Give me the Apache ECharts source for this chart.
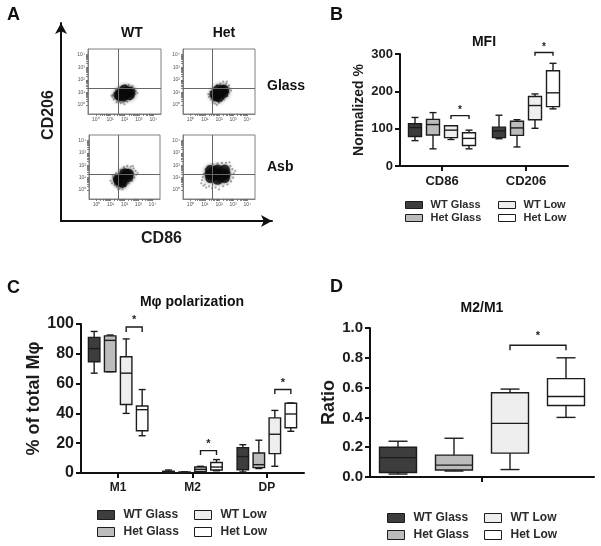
<!DOCTYPE html>
<html lang="en">
<head>
<meta charset="UTF-8">
<title>Macrophage polarization</title>
<style>
  html, body { margin: 0; padding: 0; background: #fff; }
  #chart { width: 601px; height: 546px; filter: blur(0.4px); }
</style>
</head>
<body>
<div id="chart"></div>
<script src="https://cdn.jsdelivr.net/npm/echarts@6/dist/echarts.min.js"></script>
<script>
// group names, one per box colour
var groups = ['WT Glass', 'Het Glass', 'WT Low', 'Het Low'];

// every box row is [min, q1, median, q3, max]
// panel B, MFI
var mfiCategories = ['CD86', 'CD206'];
var mfiTicks = [0, 100, 200, 300];
var mfiWtGlass = [[68, 79, 103, 113, 130], [73, 76, 94, 104, 136]];
var mfiHetGlass = [[46, 83, 111, 125, 143], [51, 82, 102, 120, 124]];
var mfiWtLow = [[71, 76, 96, 108, 108], [101, 124, 162, 186, 193]];
var mfiHetLow = [[46, 55, 74, 89, 96], [153, 159, 196, 255, 275]];
// [category, first group, last group, bracket top, bracket foot]
var mfiBrackets = [[0, 2, 3, 135, 126], [1, 2, 3, 304, 295]];

// panel C, polarization
var polCategories = ['M1', 'M2', 'DP'];
var polTicks = [0, 20, 40, 60, 80, 100];
var polWtGlass = [[67, 74.7, 83.5, 91, 95], [0.2, 0.3, 0.7, 1.2, 2], [0.7, 2.2, 11, 17, 19]];
var polHetGlass = [[68, 68, 89, 92, 92.6], [0.1, 0.2, 0.4, 0.6, 0.8], [3, 3.6, 5.6, 13.4, 22]];
var polWtLow = [[40, 46, 67, 78, 90], [0.8, 1, 2.5, 4, 4.5], [4.5, 13, 26, 37, 42]];
var polHetLow = [[25, 28.4, 42.5, 45, 56], [1.5, 2, 4, 7, 9], [28, 30.4, 39.6, 46.8, 47]];
var polBrackets = [[0, 2, 3, 98, 94.6], [1, 2, 3, 15, 12], [2, 2, 3, 56, 53]];

// panel D, M2/M1 ratio
var ratioCategories = [''];
var ratioTicks = [0, 0.2, 0.4, 0.6, 0.8, 1];
var ratioWtGlass = [[0.02, 0.03, 0.13, 0.2, 0.24]];
var ratioHetGlass = [[0.04, 0.047, 0.08, 0.147, 0.26]];
var ratioWtLow = [[0.05, 0.16, 0.36, 0.565, 0.59]];
var ratioHetLow = [[0.4, 0.48, 0.54, 0.66, 0.8]];
var ratioBrackets = [[0, 2, 3, 0.884, 0.85]];

// panel A, flow plots, read in decades: dense centre of each cloud and its stray events
var wtGlassCore = [[1.98, 0.94], [1.6, 0.8], [1.75, 0.95], [2.2, 1.05], [2.4, 1.05], [2.35, 0.8], [1.95, 0.7], [2.0, 1.2], [1.7, 0.7]];
var wtGlassStray = [[1.2, 0.8], [1.15, 0.65], [1.3, 0.95], [1.1, 0.75], [1.35, 0.55], [1.5, 0.4], [1.6, 0.25], [1.75, 0.15], [1.9, 0.2], [2.05, 0.3], [2.2, 0.25], [2.0, 0.05], [2.4, 0.45], [2.6, 0.6], [2.75, 0.85], [2.8, 1.1], [2.7, 1.3], [2.55, 1.5], [2.3, 1.6], [2.1, 1.55], [1.85, 1.5], [1.6, 1.4], [1.4, 1.2], [2.9, 0.95], [1.25, 0.45], [1.45, 0.2]];
var hetGlassCore = [[2.0, 0.95], [1.8, 0.7], [1.7, 0.85], [2.2, 1.15], [2.35, 1.2], [2.3, 0.95], [2.0, 0.65], [1.95, 1.2]];
var hetGlassStray = [[1.25, 0.85], [1.3, 0.65], [1.4, 1.05], [1.45, 0.45], [1.6, 0.3], [1.7, 0.1], [1.85, 0.0], [2.0, 0.15], [2.15, 0.3], [2.35, 0.45], [2.6, 0.7], [2.7, 1.0], [2.75, 1.3], [2.7, 1.55], [2.5, 1.7], [2.3, 1.85], [2.1, 1.7], [1.85, 1.55], [1.6, 1.35], [2.55, 1.85], [1.95, 0.25], [1.55, 0.15], [2.85, 1.15]];
var wtAsbCore = [[1.9, 1.0], [1.6, 0.75], [1.55, 0.9], [1.75, 0.7], [2.15, 1.25], [2.3, 1.3], [2.0, 1.35], [2.25, 1.05], [1.85, 0.6]];
var wtAsbStray = [[1.0, 0.75], [1.1, 0.55], [1.2, 0.95], [1.15, 1.15], [1.3, 0.4], [1.45, 0.25], [1.65, 0.1], [1.85, 0.05], [2.05, 0.3], [2.3, 0.55], [2.55, 0.75], [2.7, 1.0], [2.85, 1.25], [2.8, 1.55], [2.65, 1.75], [2.45, 1.9], [2.2, 1.95], [1.95, 1.85], [1.7, 1.65], [1.4, 1.35], [2.95, 1.4], [1.55, 0.05], [2.6, 1.95]];
var hetAsbCore = [[1.9, 1.25], [1.4, 1.0], [1.35, 1.3], [1.4, 1.6], [1.9, 0.85], [1.9, 1.65], [2.4, 1.0], [2.45, 1.3], [2.4, 1.65], [1.65, 1.5], [2.15, 1.1]];
var hetAsbStray = [[0.75, 0.55], [0.8, 0.8], [0.85, 1.05], [0.9, 0.35], [1.0, 0.45], [0.95, 1.3], [1.05, 1.7], [1.1, 0.2], [1.3, 0.3], [1.5, 0.15], [1.75, 0.2], [2.0, 0.05], [2.3, 0.3], [2.6, 0.45], [2.85, 0.7], [3.0, 1.0], [3.05, 1.35], [2.95, 1.7], [2.8, 1.95], [2.5, 2.2], [2.2, 2.2], [1.9, 2.15], [1.55, 2.1], [1.25, 1.95], [3.15, 1.55], [2.75, 2.25]];

// flow axis ticks
var fcsDecades = [0, 1, 2, 3, 4];
var fcsDecadeLabels = ['10⁰', '10¹', '10²', '10³', '10⁴'];
var fcsTicks = [0, 0.3, 0.48, 0.6, 0.7, 0.78, 0.85, 0.9, 0.95, 1, 1.3, 1.48, 1.6, 1.7, 1.78, 1.85, 1.9, 1.95, 2, 2.3, 2.48, 2.6, 2.7, 2.78, 2.85, 2.9, 2.95, 3, 3.3, 3.48, 3.6, 3.7, 3.78, 3.85, 3.9, 3.95, 4];
var quadrantX = 1.55;
var quadrantY = 1.3;

var fontName = '"Liberation Sans", Arial, sans-serif';
var ink = '#1c1c1c';
var groupColors = ['#3d3d3d', '#bcbcbc', '#eeeeee', '#ffffff'];

var chart = echarts.init(document.getElementById('chart'));

var grids = [];
var xAxes = [];
var yAxes = [];
var series = [];
var legends = [];

// flow plots
function addFlowPlot(rect, core, stray) {
  var idx = grids.length;
  grids.push({ left: rect[0], top: rect[1], width: rect[2], height: rect[3], show: true, borderColor: '#808080', borderWidth: 1, backgroundColor: 'transparent' });
  var flowAxis = function (gridIndex, min, max) {
    return {
      type: 'value', gridIndex: gridIndex, min: min, max: max,
      axisLine: { show: true, onZero: false, lineStyle: { color: '#808080', width: 1 } },
      splitLine: { show: false },
      axisTick: { show: true, length: 2, customValues: fcsTicks, lineStyle: { color: '#666', width: 0.8 } },
      axisLabel: {
        show: true, customValues: fcsDecades, margin: 3, fontSize: 5, color: '#555', fontFamily: fontName,
        formatter: function (v) { return fcsDecadeLabels[Math.round(v)]; }
      }
    };
  };
  xAxes.push(flowAxis(idx, -0.54, 4.54));
  yAxes.push(flowAxis(idx, -0.72, 4.45));
  series.push({
    type: 'scatter', name: 'stray', xAxisIndex: idx, yAxisIndex: idx, data: stray, z: 2, silent: true,
    symbolSize: 2.2, itemStyle: { color: '#222', opacity: 0.4 },
    markLine: {
      silent: true, symbol: 'none', animation: false, label: { show: false },
      lineStyle: { color: '#666', width: 1, type: 'solid' },
      data: [{ xAxis: quadrantX }, { yAxis: quadrantY }]
    }
  });
  series.push({
    type: 'scatter', name: 'core', xAxisIndex: idx, yAxisIndex: idx, data: core, z: 3, silent: true,
    symbolSize: 10.5, itemStyle: { color: '#0b0b0b', shadowBlur: 4, shadowColor: 'rgba(0,0,0,0.6)' }
  });
}

addFlowPlot([88, 49, 73, 65], wtGlassCore, wtGlassStray);
addFlowPlot([183, 49, 72, 65], hetGlassCore, hetGlassStray);
addFlowPlot([89, 135, 71, 64], wtAsbCore, wtAsbStray);
addFlowPlot([183, 135, 72, 64], hetAsbCore, hetAsbStray);

// the big arrows round panel A
(function () {
  var idx = grids.length;
  grids.push({ left: 61, top: 23, width: 211, height: 198 });
  var arrowLine = { show: true, onZero: false, symbol: ['none', 'arrow'], symbolSize: [9, 11], lineStyle: { color: '#111', width: 2 } };
  xAxes.push({
    type: 'value', gridIndex: idx, min: 0, max: 1, axisLine: arrowLine, axisTick: { show: false }, axisLabel: { show: false }, splitLine: { show: false },
    name: 'CD86', nameLocation: 'middle', nameGap: 10,
    nameTextStyle: { fontFamily: fontName, fontWeight: 'bold', fontSize: 16, color: ink, padding: [0, 10, 0, 0] }
  });
  yAxes.push({
    type: 'value', gridIndex: idx, min: 0, max: 1, axisLine: arrowLine, axisTick: { show: false }, axisLabel: { show: false }, splitLine: { show: false },
    name: 'CD206', nameLocation: 'middle', nameGap: 4,
    nameTextStyle: { fontFamily: fontName, fontWeight: 'bold', fontSize: 16, color: ink, padding: [0, 0, 0, 14] }
  });
})();

// one box with whiskers; offset and widths in pixels
function boxRenderer(offset, boxWidth, capWidth, lineWidth, fill) {
  return function (params, api) {
    var cx = api.coord([api.value(0), 0])[0] + offset;
    var low = api.coord([0, api.value(1)])[1];
    var q1 = api.coord([0, api.value(2)])[1];
    var med = api.coord([0, api.value(3)])[1];
    var q3 = api.coord([0, api.value(4)])[1];
    var high = api.coord([0, api.value(5)])[1];
    var stroke = { stroke: ink, lineWidth: lineWidth, fill: null };
    var seg = function (x1, y1, x2, y2) {
      return { type: 'line', shape: { x1: x1, y1: y1, x2: x2, y2: y2 }, style: stroke };
    };
    return {
      type: 'group',
      children: [
        seg(cx, low, cx, high),
        seg(cx - capWidth / 2, low, cx + capWidth / 2, low),
        seg(cx - capWidth / 2, high, cx + capWidth / 2, high),
        { type: 'rect', shape: { x: cx - boxWidth / 2, y: q3, width: boxWidth, height: q1 - q3 }, style: { fill: fill, stroke: ink, lineWidth: lineWidth } },
        seg(cx - boxWidth / 2, med, cx + boxWidth / 2, med)
      ]
    };
  };
}

function bracketRenderer(spacing, lineWidth, starGap, starSize) {
  return function (params, api) {
    var cx = api.coord([api.value(0), 0])[0];
    var x1 = cx + (api.value(1) - 1.5) * spacing;
    var x2 = cx + (api.value(2) - 1.5) * spacing;
    var top = api.coord([0, api.value(3)])[1];
    var foot = api.coord([0, api.value(4)])[1];
    return {
      type: 'group',
      children: [
        { type: 'polyline', shape: { points: [[x1, foot], [x1, top], [x2, top], [x2, foot]] }, style: { stroke: ink, lineWidth: lineWidth, fill: null } },
        { type: 'text', x: (x1 + x2) / 2, y: top - starGap, style: { text: '*', fill: ink, font: 'bold ' + starSize + 'px ' + fontName, textAlign: 'center', textVerticalAlign: 'middle' } }
      ]
    };
  };
}

// boxes panels
function addBoxPanel(opt) {
  var idx = grids.length;
  grids.push({ left: opt.rect[0], top: opt.rect[1], width: opt.rect[2], height: opt.rect[3] });
  var axisStroke = { color: '#111', width: 2 };
  xAxes.push({
    type: 'category', gridIndex: idx, data: opt.categories,
    axisLine: { show: true, lineStyle: axisStroke },
    axisTick: { show: true, alignWithLabel: true, length: 5, lineStyle: axisStroke },
    axisLabel: { show: true, margin: 9, color: ink, fontFamily: fontName, fontWeight: 'bold', fontSize: opt.catSize },
    splitLine: { show: false }
  });
  yAxes.push({
    type: 'value', gridIndex: idx, min: opt.ticks[0], max: opt.ticks[opt.ticks.length - 1],
    interval: opt.ticks[1] - opt.ticks[0],
    axisLine: { show: true, lineStyle: axisStroke },
    axisTick: { show: true, length: 5, lineStyle: axisStroke },
    axisLabel: { show: true, margin: 7, color: ink, fontFamily: fontName, fontWeight: 'bold', fontSize: opt.tickSize, formatter: opt.tickFormat },
    splitLine: { show: false },
    name: opt.yName, nameLocation: 'middle', nameGap: opt.nameGap,
    nameTextStyle: { color: ink, fontFamily: fontName, fontWeight: 'bold', fontSize: opt.nameSize }
  });
  opt.rows.forEach(function (rows, g) {
    series.push({
      type: 'custom', name: groups[g], xAxisIndex: idx, yAxisIndex: idx, clip: false, silent: true,
      encode: { x: 0, y: [1, 2, 3, 4, 5] },
      itemStyle: { color: groupColors[g], borderColor: ink, borderWidth: 1 },
      renderItem: boxRenderer((g - 1.5) * opt.spacing, opt.boxWidth, opt.capWidth, opt.lineWidth, groupColors[g]),
      data: rows.map(function (r, i) { return [i].concat(r); })
    });
  });
  series.push({
    type: 'custom', name: 'significance', xAxisIndex: idx, yAxisIndex: idx, clip: false, silent: true,
    encode: { x: 0, y: 3 },
    renderItem: bracketRenderer(opt.spacing, opt.lineWidth, opt.starGap, opt.starSize),
    data: opt.brackets
  });
  // two legend columns
  [[0, 1], [2, 3]].forEach(function (col, c) {
    legends.push({
      left: opt.legendX[c], top: opt.legendY, orient: 'vertical', selectedMode: false, padding: 0,
      icon: 'rect', itemWidth: 17, itemHeight: opt.swatchH, itemGap: opt.legendGap,
      textStyle: { color: '#2b2b2b', fontFamily: fontName, fontWeight: 'bold', fontSize: opt.legendSize, lineHeight: 12, padding: [0, 0, 0, opt.legendPad] },
      data: col.map(function (g) {
        return { name: groups[g], itemStyle: { color: groupColors[g], borderColor: ink, borderWidth: 1 } };
      })
    });
  });
}

addBoxPanel({
  rect: [400, 54, 168, 112], categories: mfiCategories, ticks: mfiTicks,
  rows: [mfiWtGlass, mfiHetGlass, mfiWtLow, mfiHetLow], brackets: mfiBrackets,
  spacing: 18, boxWidth: 13, capWidth: 7, lineWidth: 1.4, starGap: 5, starSize: 10,
  catSize: 13, tickSize: 13, nameSize: 14, yName: 'Normalized %', nameGap: 34,
  legendX: [405, 498], legendY: 199, swatchH: 7, legendGap: 1, legendSize: 11, legendPad: 3
});

addBoxPanel({
  rect: [81, 324, 223, 149], categories: polCategories, ticks: polTicks,
  rows: [polWtGlass, polHetGlass, polWtLow, polHetLow], brackets: polBrackets,
  spacing: 16, boxWidth: 11.5, capWidth: 7, lineWidth: 1.4, starGap: 7, starSize: 11,
  catSize: 12, tickSize: 16, nameSize: 18, yName: '% of total Mφ', nameGap: 38,
  legendX: [97, 194], legendY: 509, swatchH: 9, legendGap: 5, legendSize: 12, legendPad: 4
});

addBoxPanel({
  rect: [370, 328, 224, 149], categories: ratioCategories, ticks: ratioTicks,
  rows: [ratioWtGlass, ratioHetGlass, ratioWtLow, ratioHetLow], brackets: ratioBrackets,
  spacing: 56, boxWidth: 37, capWidth: 19, lineWidth: 1.4, starGap: 9, starSize: 11,
  catSize: 12, tickSize: 15, nameSize: 18, yName: 'Ratio', nameGap: 32,
  tickFormat: function (v) { return v.toFixed(1); },
  legendX: [387, 484], legendY: 512, swatchH: 9, legendGap: 5, legendSize: 12, legendPad: 4
});

// free text: [text, x, y, size, align]
var labels = [
  ['A', 7, 15, 18, 'left'], ['B', 330, 15, 18, 'left'], ['C', 7, 288, 18, 'left'], ['D', 330, 287, 18, 'left'],
  ['WT', 132, 33, 14, 'center'], ['Het', 224, 33, 14, 'center'],
  ['Glass', 267, 86, 14, 'left'], ['Asb', 267, 167, 14, 'left'],
  ['MFI', 484, 42, 14, 'center'], ['Mφ polarization', 192, 302, 14, 'center'], ['M2/M1', 482, 308, 14, 'center']
];

chart.setOption({
  animation: false,
  backgroundColor: '#fff',
  grid: grids,
  xAxis: xAxes,
  yAxis: yAxes,
  legend: legends,
  series: series,
  graphic: labels.map(function (t) {
    return {
      type: 'text', x: t[1], y: t[2], silent: true,
      style: { text: t[0], fill: '#111', font: 'bold ' + t[3] + 'px ' + fontName, textAlign: t[4], textVerticalAlign: 'middle' }
    };
  })
});
</script>
</body>
</html>
